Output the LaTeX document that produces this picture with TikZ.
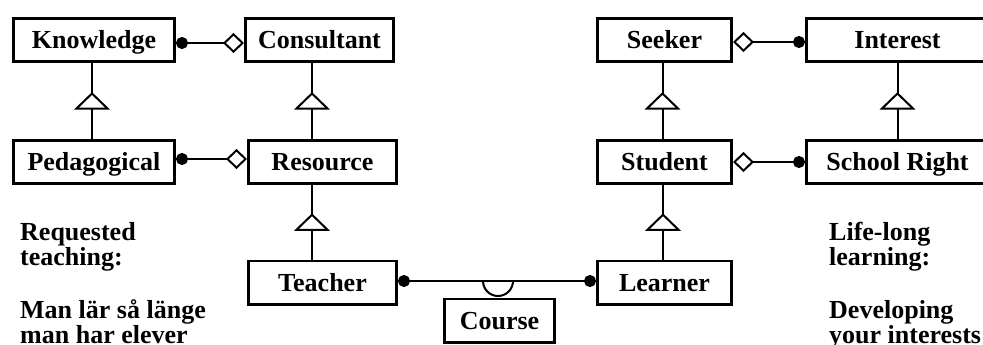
\documentclass[tikz,border=0pt]{standalone}
\usepackage{fontspec}
\setmainfont{Liberation Serif}
\usetikzlibrary{arrows.meta,decorations.markings}
\begin{document}
\begin{tikzpicture}[x=1pt,y=-1pt,
  every node/.style={font=\fontsize{26}{25}\selectfont\bfseries},
  cls/.style={draw, line width=2.6pt, minimum height=43.4pt, inner sep=0pt,
    text height=17pt, text depth=0pt},
  link/.style={line width=2pt},
  dotend/.style={Circle[length=12pt,width=12pt]},
  agg/.style={link, {Circle[length=12pt,width=12pt]}-{Diamond[fill=white,length=21pt,width=20pt]}},
  assoc/.style={link, {Circle[length=12pt,width=12pt]}-{Circle[length=12pt,width=12pt]}},
  gen/.style={link, postaction={decorate},
    decoration={markings, mark=at position 0.5 with
      {\draw[line width=2pt, fill=white, line join=miter]
        (7.5pt,0pt) -- (-7.5pt,15.5pt) -- (-7.5pt,-15.5pt) -- cycle;}}},
  note/.style={anchor=base west, inner sep=0pt}
]
\useasboundingbox (0,0) rectangle (983,345);
\clip (0,0) rectangle (983,345);

% classes, left group
\node[cls, minimum width=161.4pt] (know)  at (94,40)    {Knowledge};
\node[cls, minimum width=148.4pt] (cons)  at (319.5,40) {Consultant};
\node[cls, minimum width=161.4pt] (ped)   at (94,162)   {Pedagogical};
\node[cls, minimum width=148.4pt] (res)   at (322.5,162) {Resource};
\node[cls, minimum width=148.4pt] (teach) at (322.5,282.5) {Teacher};

% classes, right group
\node[cls, minimum width=134.4pt] (seek)  at (664.5,40)  {Seeker};
\node[cls, minimum width=182.4pt] (inter) at (897.5,40)  {Interest};
\node[cls, minimum width=134.4pt] (stud)  at (664.5,162) {Student};
\node[cls, minimum width=182.4pt] (right) at (897.5,162) {School Right};
\node[cls, minimum width=134.4pt] (learn) at (664.5,282.5) {Learner};

% association class
\node[cls, minimum width=110.4pt] (course) at (499.5,320.5) {Course};

% aggregations
\draw[agg] ([yshift=-3pt]know.east) -- ([yshift=-3pt]cons.west);
\draw[agg] ([yshift=3pt]ped.east) -- ([yshift=3pt]res.west);
\draw[agg] ([yshift=-2pt]inter.west) -- ([yshift=-2pt]seek.east);
\draw[agg] (right.west) -- (stud.east);

% generalizations
\draw[gen] ([xshift=-2pt]ped.north) -- ([xshift=-2pt]ped.north |- know.south);
\draw[gen] ([xshift=-10.5pt]res.north) -- ([xshift=-10.5pt]res.north |- cons.south);
\draw[gen] ([xshift=-10.5pt]teach.north) -- ([xshift=-10.5pt]teach.north |- res.south);
\draw[gen] ([xshift=-2pt]stud.north) -- ([xshift=-2pt]stud.north |- seek.south);
\draw[gen] ([xshift=-1.5pt]learn.north) -- ([xshift=-1.5pt]learn.north |- stud.south);
\draw[gen] (right.north) -- (right.north |- inter.south);

% association Teacher -- Learner with its class attached
\draw[assoc] ([yshift=1.5pt]teach.east) -- ([yshift=1.5pt]learn.west);
\draw[link] ([xshift=-16.5pt,yshift=1.5pt]course.north |- teach.east)
  arc[start angle=180, end angle=360, radius=15pt];

% side notes
\node[note] (req) at (20,240) {\parbox[t]{220pt}{\raggedright
  Requested\\teaching:\\[28pt]Man lär så länge\\man har elever}};
\node[note] (life) at (829,240) {\parbox[t]{220pt}{\raggedright
  Life-long\\learning:\\[28pt]Developing\\your interests}};
\end{tikzpicture}
\end{document}
